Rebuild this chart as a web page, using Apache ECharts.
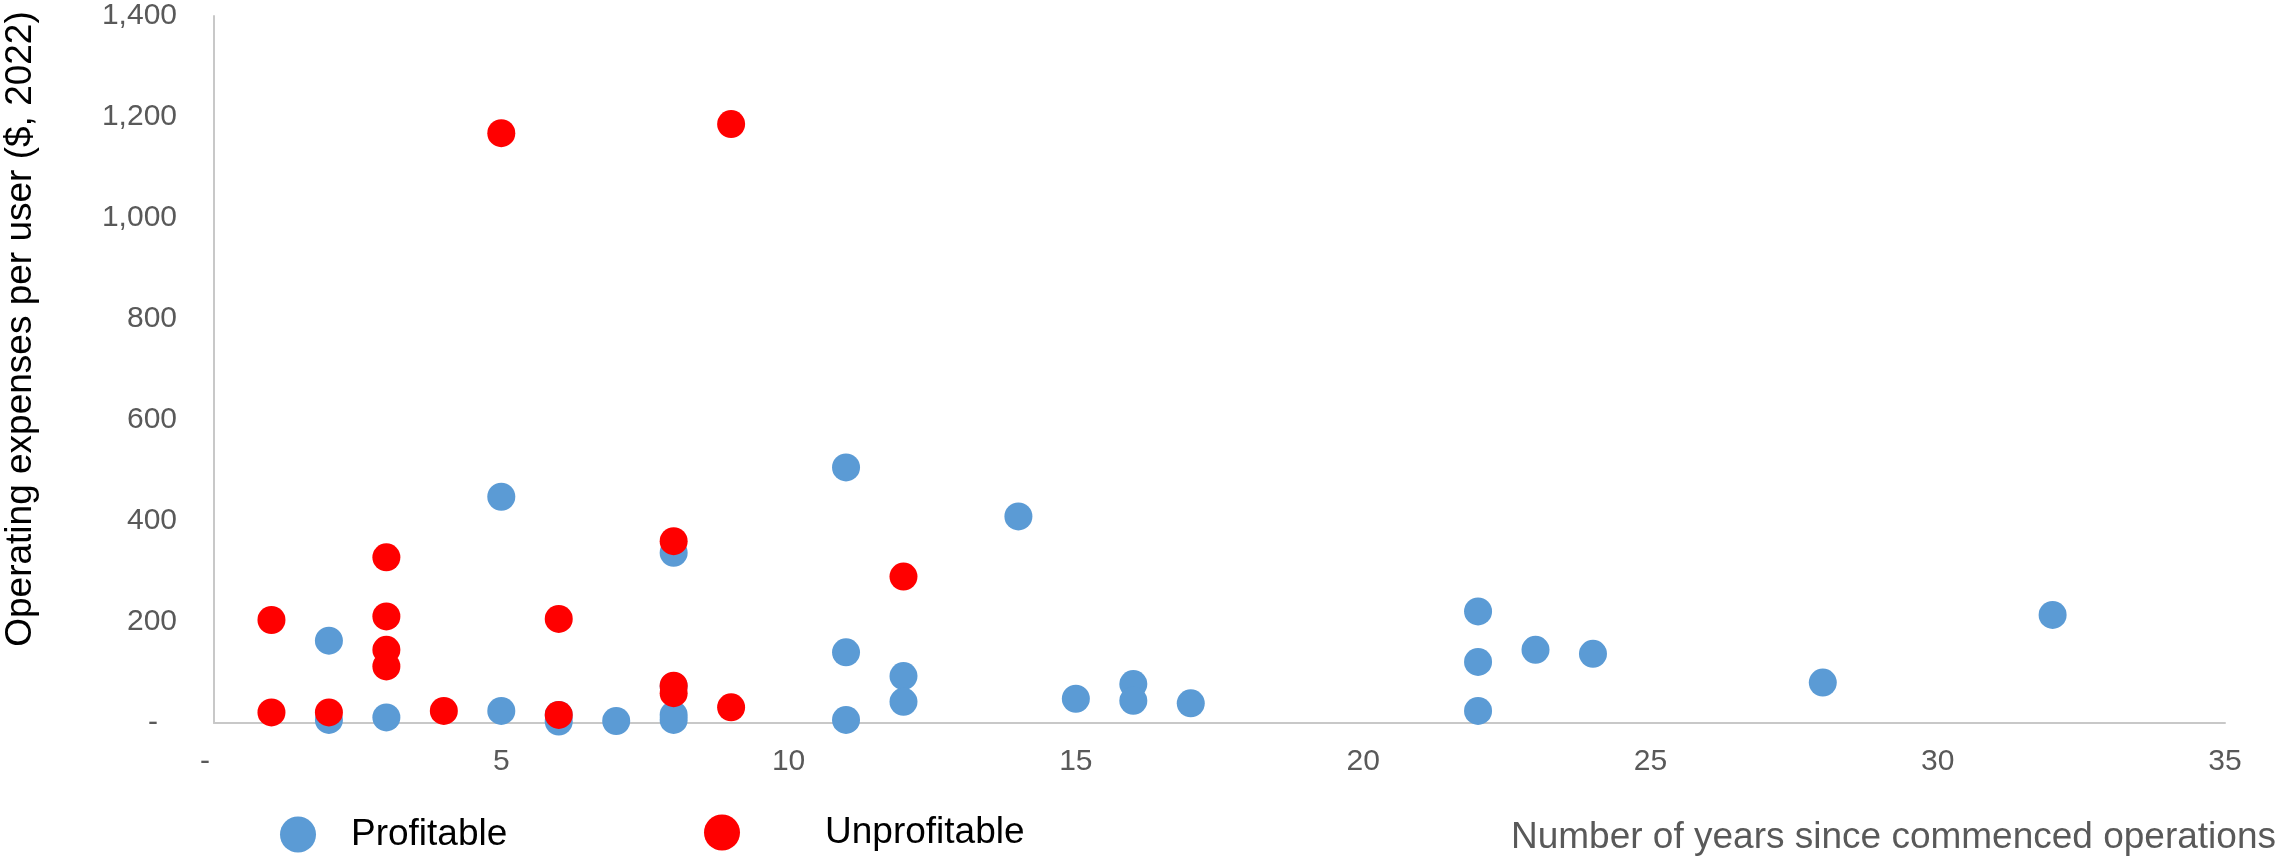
<!DOCTYPE html>
<html>
<head>
<meta charset="utf-8">
<title>Operating expenses per user vs years of operation</title>
<script src="https://cdn.jsdelivr.net/npm/echarts@6/dist/echarts.min.js"></script>
<style>
  html, body { margin: 0; padding: 0; background: #ffffff; }
  #chart { width: 2280px; height: 856px; }
</style>
</head>
<body>
<div id="chart"></div>
<script>
// Series names
const seriesNames = ['Profitable', 'Unprofitable'];

// Profitable operators: [years since commenced operations, operating expenses per user ($, 2022)]
const profitable = [
  [2, 163], [2, 6], [3, 11], [5, 448], [5, 24], [6, 16], [6, 3], [7, 4],
  [8, 337], [8, 73], [8, 16], [8, 6], [11, 506], [11, 140], [11, 6],
  [12, 93], [12, 42], [14, 409], [15, 48], [16, 77], [16, 44], [17, 39],
  [22, 221], [22, 121], [22, 24], [23, 145], [24, 137], [28, 80], [32, 214]
];

// Unprofitable operators
const unprofitable = [
  [1, 204], [1, 21], [2, 21], [3, 328], [3, 211], [3, 145], [3, 112],
  [4, 24], [5, 1168], [6, 206], [6, 16], [8, 360], [8, 74], [8, 59],
  [9, 1186], [9, 31], [12, 290]
];

// Axis ranges and titles
const xAxisRange = { min: 0, max: 35, interval: 5 };
const yAxisRange = { min: 0, max: 1400, interval: 200 };
const xTitle = 'Number of years since commenced operations';
const yTitle = 'Operating expenses per user ($, 2022)';

const FONT = '"Liberation Sans", Arial, Helvetica, sans-serif';
const BLUE = '#5B9BD5';
const RED = '#FF0000';
const AXIS_GREY = '#c8c8c8';
const LABEL_GREY = '#595959';

const fmtThousands = v => v.toLocaleString('en-US');

const chart = echarts.init(document.getElementById('chart'), null, { renderer: 'canvas' });

const option = {
  backgroundColor: '#ffffff',
  animation: false,
  grid: { left: 214, right: 55, top: 16, bottom: 133, containLabel: false },
  xAxis: {
    type: 'value',
    min: xAxisRange.min, max: xAxisRange.max, interval: xAxisRange.interval,
    axisLine: { show: true, onZero: false, lineStyle: { color: AXIS_GREY, width: 2 } },
    axisTick: { show: false },
    splitLine: { show: false },
    axisLabel: {
      margin: 24,
      color: LABEL_GREY, fontFamily: FONT, fontSize: 30,
      formatter: v => v === 0 ? '{z|-}' : fmtThousands(v),
      rich: { z: { color: LABEL_GREY, fontFamily: FONT, fontSize: 30, padding: [0, 18, 0, 0] } }
    }
  },
  yAxis: {
    type: 'value',
    min: yAxisRange.min, max: yAxisRange.max, interval: yAxisRange.interval,
    axisLine: { show: true, lineStyle: { color: AXIS_GREY, width: 2 } },
    axisTick: { show: false },
    splitLine: { show: false },
    axisLabel: {
      margin: 37,
      color: LABEL_GREY, fontFamily: FONT, fontSize: 30,
      formatter: v => v === 0 ? '{z|-}' : fmtThousands(v),
      rich: { z: { color: LABEL_GREY, fontFamily: FONT, fontSize: 30, padding: [0, 19, 0, 0] } }
    }
  },
  legend: [
    {
      data: [seriesNames[0]],
      left: 275, top: 811,
      itemWidth: 36, itemHeight: 36,
      icon: 'circle',
      textStyle: { color: '#000000', fontFamily: FONT, fontSize: 37, padding: [0, 0, 0, 30] }
    },
    {
      data: [seriesNames[1]],
      left: 699, top: 809,
      itemWidth: 36, itemHeight: 36,
      icon: 'circle',
      textStyle: { color: '#000000', fontFamily: FONT, fontSize: 37, padding: [0, 0, 0, 80] }
    }
  ],
  graphic: [
    {
      type: 'text',
      x: 21, y: 329,
      rotation: Math.PI / 2,
      style: {
        text: yTitle,
        font: '37px ' + FONT,
        fill: '#000000',
        align: 'center', verticalAlign: 'middle',
        textAlign: 'center', textVerticalAlign: 'middle'
      }
    },
    {
      type: 'text',
      x: 2276, y: 838,
      style: {
        text: xTitle,
        font: '37px ' + FONT,
        fill: LABEL_GREY,
        align: 'right', verticalAlign: 'middle',
        textAlign: 'right', textVerticalAlign: 'middle'
      }
    }
  ],
  series: [
    {
      name: seriesNames[0],
      type: 'scatter',
      symbol: 'circle',
      symbolSize: 28,
      itemStyle: { color: BLUE, opacity: 1 },
      data: profitable
    },
    {
      name: seriesNames[1],
      type: 'scatter',
      symbol: 'circle',
      symbolSize: 28,
      itemStyle: { color: RED, opacity: 1 },
      data: unprofitable
    }
  ]
};

chart.setOption(option);
</script>
</body>
</html>
